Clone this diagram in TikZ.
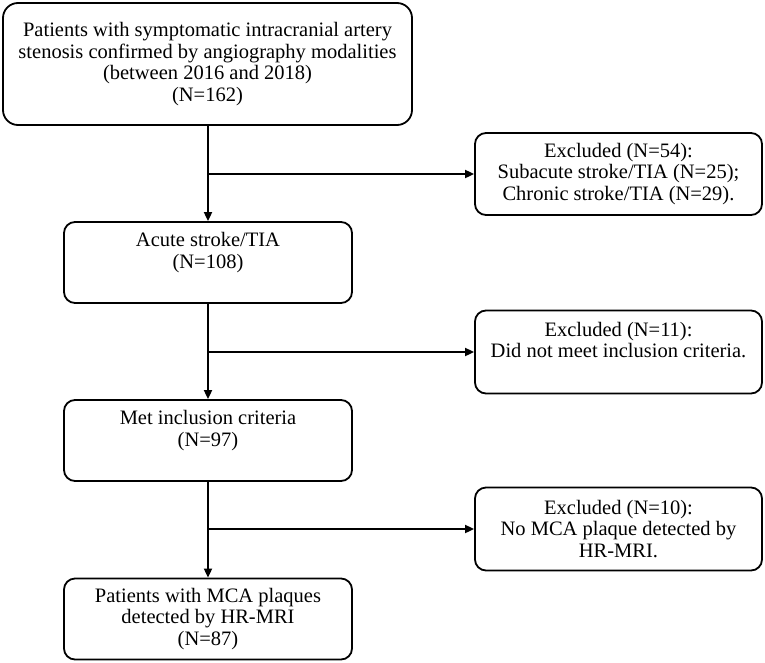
\documentclass[tikz,border=0pt]{standalone}
\usepackage{fontspec}
\setmainfont{Liberation Serif}
\usetikzlibrary{arrows.meta}

\begin{document}
\begin{tikzpicture}[x=1pt, y=-1pt,
		font=\fontsize{20.5}{21.5}\selectfont,
		flowbox/.style={draw, line width=1.8pt, rounded corners=11pt, align=center, inner sep=0pt, minimum width=288pt, minimum height=81pt},
		twoline/.style={text depth=24pt},
		flowarrow/.style={line width=1.8pt, -{Triangle[length=9pt, width=8pt]}}]
			%%%%% START %%%%%
			\useasboundingbox (0, 0) rectangle (765, 662);
			
			\node[flowbox, rounded corners=15pt, minimum width=409pt, minimum height=122pt] (start) at (207.5, 64)
				{Patients with symptomatic intracranial artery\\stenosis confirmed by angiography modalities\\(between 2016 and 2018)\\(N=162)};
			\node[flowbox, twoline] (acute) at (208, 262.5) {Acute stroke/TIA\\(N=108)};
			\node[flowbox, twoline] (meet) at (208, 440.5) {Met inclusion criteria\\(N=97)};
			\node[flowbox] (final) at (208, 619) {Patients with MCA plaques\\detected by HR-MRI\\(N=87)};
			
			\node[flowbox, minimum width=287pt, minimum height=82pt] (exA) at (618.5, 174)
				{Excluded (N=54):\\Subacute stroke/TIA (N=25);\\Chronic stroke/TIA (N=29).};
			\node[flowbox, twoline, minimum width=287pt, minimum height=83pt] (exB) at (618.5, 352)
				{Excluded (N=11):\\Did not meet inclusion criteria.};
			\node[flowbox, minimum width=287pt, minimum height=83pt] (exC) at (618.5, 529)
				{Excluded (N=10):\\No MCA plaque detected by\\HR-MRI.};
			
			\draw[flowarrow] (start.south -| acute.north) -- (acute.north);
			\draw[flowarrow] (acute.south) -- (meet.north);
			\draw[flowarrow] (meet.south) -- (final.north);
			
			\draw[flowarrow] (exA.west -| acute.north) -- (exA.west);
			\draw[flowarrow] (exB.west -| acute.north) -- (exB.west);
			\draw[flowarrow] (exC.west -| acute.north) -- (exC.west);
			%%%%% END %%%%%
		\end{tikzpicture}
\end{document}
